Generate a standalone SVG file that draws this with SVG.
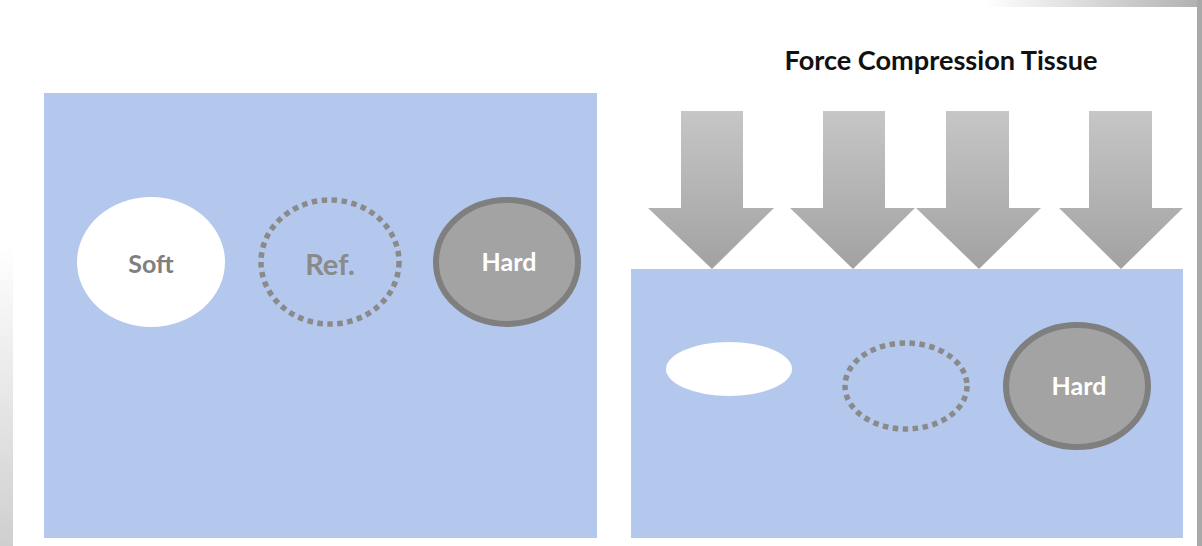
<svg xmlns="http://www.w3.org/2000/svg" width="1202" height="546" viewBox="0 0 1202 546">
  <defs>
    <linearGradient id="leftEdge" x1="0" y1="0" x2="0" y2="1">
      <stop offset="0" stop-color="#ffffff"/>
      <stop offset="0.45" stop-color="#ffffff"/>
      <stop offset="1" stop-color="#cfcfcf"/>
    </linearGradient>
    <linearGradient id="topEdge" x1="0" y1="0" x2="1" y2="0">
      <stop offset="0" stop-color="#ffffff"/>
      <stop offset="0.82" stop-color="#ffffff"/>
      <stop offset="1" stop-color="#b0b0b0"/>
    </linearGradient>
    <linearGradient id="arrowFill" gradientUnits="userSpaceOnUse" x1="0" y1="111" x2="0" y2="268">
      <stop offset="0" stop-color="#c6c6c6"/>
      <stop offset="1" stop-color="#a2a2a2"/>
    </linearGradient>
    <style>
      .panel { fill: #b4c8ee; }
      .soft { fill: #ffffff; }
      .ref { fill: none; stroke: #8a8a8a; stroke-width: 5.5; stroke-dasharray: 5.5 4.5; }
      .hard { fill: #a3a3a3; stroke: #7f7f7f; stroke-width: 6; }
      .lbl { font-family: Lato, "Open Sans", "Liberation Sans", sans-serif; font-weight: bold; text-anchor: middle; dominant-baseline: central; }
      .dark { fill: #7f7f7f; }
      .light { fill: #ffffff; }
      .arrow { fill: url(#arrowFill); }
      .title { font-family: Lato, "Open Sans", "Liberation Sans", sans-serif; font-weight: bold; font-size: 27px; fill: #111111; text-anchor: middle; }
    </style>
  </defs>

  <rect x="0" y="0" width="1202" height="546" fill="#ffffff"/>
  <rect x="0" y="0" width="13" height="546" fill="url(#leftEdge)"/>
  <rect x="0" y="0" width="1202" height="7" fill="url(#topEdge)"/>
  <rect x="1197" y="0" width="5" height="546" fill="#a9a9a9"/>

  <g id="title">
    <text class="title" x="941" y="70" textLength="313" lengthAdjust="spacingAndGlyphs">Force Compression Tissue</text>
  </g>

  <g id="left-panel">
    <rect class="panel" x="44" y="93" width="553" height="445"/>
  </g>
  <g id="right-panel">
    <rect class="panel" x="631" y="269" width="552" height="269"/>
  </g>

  <g id="force-arrows">
    <polygon class="arrow" points="681,111 743,111 743,208 774,208 712,269 648,208 681,208"/>
    <polygon class="arrow" points="823,111 885,111 885,208 915,208 853,269 790,208 823,208"/>
    <polygon class="arrow" points="946,111 1009,111 1009,208 1041,208 979,269 916,208 946,208"/>
    <polygon class="arrow" points="1089,111 1152,111 1152,208 1183,208 1121,269 1059,208 1089,208"/>
  </g>

  <g id="soft-left">
    <ellipse class="soft" cx="151" cy="262" rx="74" ry="65"/>
    <text class="lbl dark" x="151" y="263" font-size="25">Soft</text>
  </g>
  <g id="ref-left">
    <ellipse class="ref" cx="330" cy="262" rx="69" ry="62"/>
    <text class="lbl" x="330" y="263" font-size="29" fill="#8a8a8a">Ref.</text>
  </g>
  <g id="hard-left">
    <ellipse class="hard" cx="507" cy="262" rx="71" ry="62"/>
    <text class="lbl light" x="509" y="261" font-size="25">Hard</text>
  </g>

  <g id="soft-right">
    <ellipse class="soft" cx="729" cy="369" rx="63" ry="27"/>
  </g>
  <g id="ref-right">
    <ellipse class="ref" cx="906" cy="386" rx="61" ry="43"/>
  </g>
  <g id="hard-right">
    <ellipse class="hard" cx="1077" cy="386" rx="71" ry="61"/>
    <text class="lbl light" x="1079" y="385" font-size="25">Hard</text>
  </g>
</svg>
